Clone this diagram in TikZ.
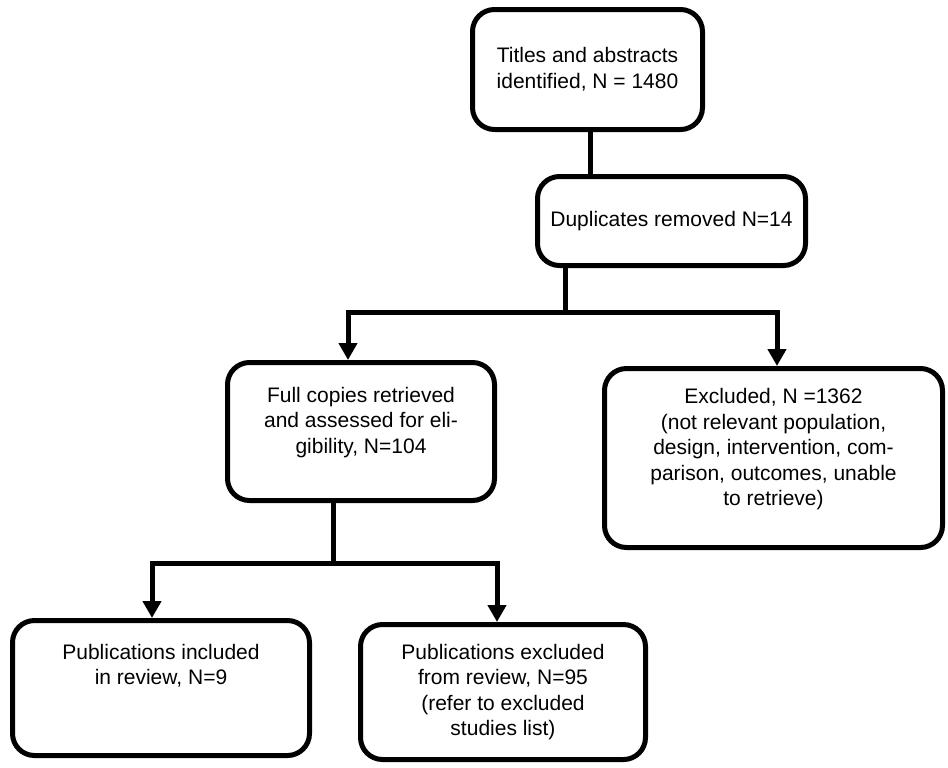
\documentclass[tikz,border=0pt]{standalone}
\usepackage{fontspec}
\setmainfont{Liberation Sans}
\usetikzlibrary{arrows.meta}
\begin{document}
\begin{tikzpicture}
		[x=0.5pt, y=-0.5pt,
		box/.style={draw, line width=2.5pt, rounded corners=11pt, align=center,
			inner sep=0pt, font=\fontsize{10.5}{12.8}\selectfont},
		link/.style={line width=2.5pt},
		arr/.style={link, -{Triangle[width=9pt, length=8.5pt]}}]
		\fill[white] (0,0) rectangle (948,767);
		\node[box, minimum width=115pt, minimum height=60pt] (titles) at (587.5,69.5)
			{Titles and abstracts\\identified, N = 1480};
		\node[box, minimum width=134pt, minimum height=44.5pt] (dupl) at (671.5,221)
			{Duplicates removed N=14};
		\node[box, minimum width=133.5pt, minimum height=69pt, text depth=11.5pt] (full) at (361,431.5)
			{Full copies retrieved\\and assessed for eli-\\gibility, N=104};
		\node[box, minimum width=169pt, minimum height=89.5pt, text depth=11pt] (excl) at (773.5,458)
			{Excluded, N =1362\\(not relevant population,\\design, intervention, com-\\parison, outcomes, unable\\to retrieve)};
		\node[box, minimum width=148.5pt, minimum height=67.5pt, text depth=23.5pt] (incl) at (161,688)
			{Publications included\\in review, N=9};
		\node[box, minimum width=142.5pt, minimum height=67.5pt] (exclpub) at (503,692)
			{Publications excluded\\from review, N=95\\(refer to excluded\\studies list)};
		\coordinate (split1) at (565,312);
		\coordinate (split2) at (333,563);
		\draw[link] (titles.south -| 590,0) -- (dupl.north -| 590,0);
		\draw[link] (dupl.south -| split1) -- (split1);
		\draw[arr] (split1) -| (full.north -| 348,0);
		\draw[arr] (split1) -| (excl.north -| 777,0);
		\draw[link] (full.south -| split2) -- (split2);
		\draw[arr] (split2) -| (incl.north -| 152,0);
		\draw[arr] (split2) -| (exclpub.north -| 497,0);
	\end{tikzpicture}
\end{document}
